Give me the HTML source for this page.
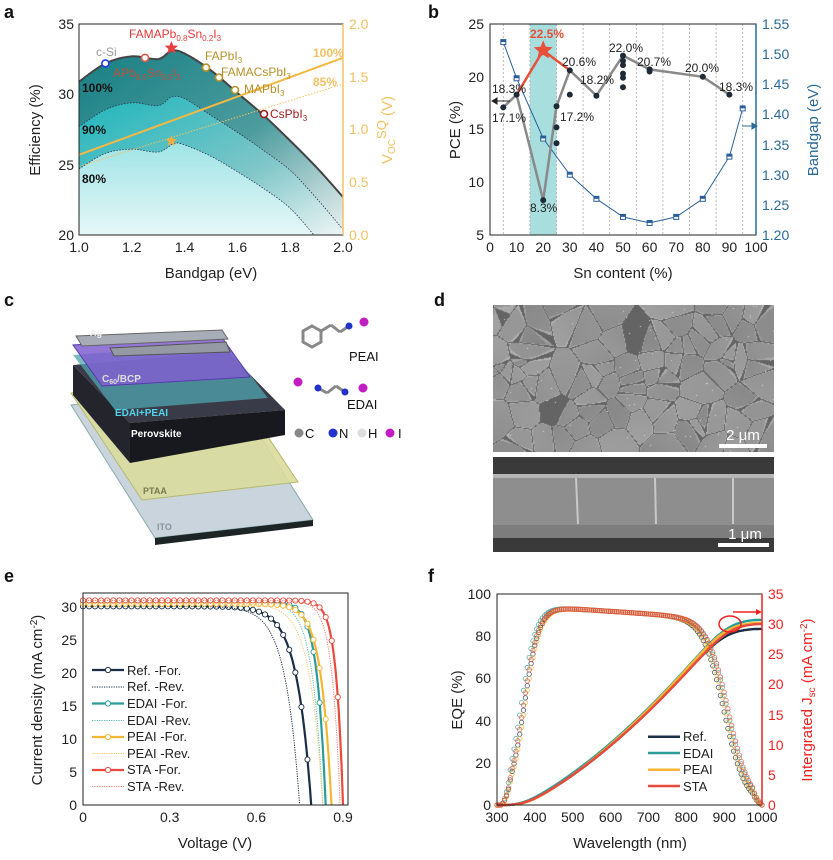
<!DOCTYPE html>
<html><head><meta charset="utf-8">
<style>
html,body{margin:0;padding:0;background:#fff;}
svg{display:block;font-family:"Liberation Sans",Arial,sans-serif;position:relative;}
.t{font-size:14px;fill:#222;}
.ti{font-size:15px;fill:#222;}
.pl{font-size:18px;font-weight:bold;fill:#111;}
#cv{position:absolute;left:493px;top:305px;}
</style></head>
<body>
<canvas id="cv" width="281" height="147"></canvas>
<svg id="s" width="833" height="860" viewBox="0 0 833 860" xmlns="http://www.w3.org/2000/svg">
<defs>
<linearGradient id="ga" x1="0" y1="0" x2="1" y2="1"><stop offset="0" stop-color="#167f83"/><stop offset="0.55" stop-color="#4d9c9e"/><stop offset="1" stop-color="#eef2f2"/></linearGradient>
<linearGradient id="gb" x1="0" y1="0" x2="1" y2="1"><stop offset="0" stop-color="#1cb6bc"/><stop offset="0.6" stop-color="#7fc6c8"/><stop offset="1" stop-color="#eef5f5"/></linearGradient>
<linearGradient id="gc" x1="0" y1="0" x2="0" y2="1"><stop offset="0" stop-color="#9fe4e6"/><stop offset="1" stop-color="#e6f7f7"/></linearGradient>
</defs>

<text class="pl" x="4" y="18">a</text>
<text class="pl" x="428" y="18">b</text>
<text class="pl" x="4" y="306">c</text>
<text class="pl" x="434" y="306">d</text>
<text class="pl" x="4" y="582">e</text>
<text class="pl" x="428" y="582">f</text>

<!-- ============ Panel a ============ -->
<g id="pa"></g>
<rect x="79" y="24" width="264" height="211" fill="none" stroke="#222" stroke-width="1"/>
<line x1="343" y1="24" x2="343" y2="235" stroke="#f2c468" stroke-width="1.5"/>
<g class="t" text-anchor="middle">
<text x="79" y="252">1.0</text><text x="131.8" y="252">1.2</text><text x="184.6" y="252">1.4</text><text x="237.4" y="252">1.6</text><text x="290.2" y="252">1.8</text><text x="343" y="252">2.0</text>
</g>
<g class="t" text-anchor="end">
<text x="74" y="29">35</text><text x="74" y="99">30</text><text x="74" y="170">25</text><text x="74" y="240">20</text>
</g>
<g class="t" style="fill:#f2c060">
<text x="349" y="29">2.0</text><text x="349" y="82">1.5</text><text x="349" y="134">1.0</text><text x="349" y="187">0.5</text><text x="349" y="240">0.0</text>
</g>
<text class="ti" x="211" y="278" text-anchor="middle">Bandgap (eV)</text>
<text class="ti" transform="translate(40,130) rotate(-90)" text-anchor="middle">Efficiency (%)</text>
<text class="ti" transform="translate(392,130) rotate(-90)" text-anchor="middle" style="fill:#f2c060">V<tspan font-size="10" dy="3">OC</tspan><tspan dy="-9" font-size="13">SQ</tspan><tspan dy="6"> (V)</tspan></text>
<g font-size="12" font-weight="bold" fill="#111">
<text x="82" y="92">100%</text><text x="82" y="134">90%</text><text x="82" y="183">80%</text>
</g>
<g font-size="12" fill="#f2c060" font-weight="bold">
<text x="313" y="57">100%</text><text x="313" y="86">85%</text>
</g>
<g font-size="12">
<text x="96" y="56" fill="#999">c-Si</text>
<text x="129" y="38" fill="#e63a3a">FAMAPb<tspan font-size="8" dy="3">0.8</tspan><tspan dy="-3">Sn</tspan><tspan font-size="8" dy="3">0.2</tspan><tspan dy="-3">I</tspan><tspan font-size="8" dy="3">3</tspan></text>
<text x="113" y="77" fill="#c0503c">APb<tspan font-size="8" dy="3">0.5</tspan><tspan dy="-3">Sn</tspan><tspan font-size="8" dy="3">0.5</tspan><tspan dy="-3">I</tspan><tspan font-size="8" dy="3">3</tspan></text>
<text x="205" y="60" fill="#b8902a">FAPbI<tspan font-size="8" dy="3">3</tspan></text>
<text x="221" y="76" fill="#b8902a">FAMACsPbI<tspan font-size="8" dy="3">3</tspan></text>
<text x="244" y="93" fill="#b8902a">MAPbI<tspan font-size="8" dy="3">3</tspan></text>
<text x="270" y="118" fill="#a02020">CsPbI<tspan font-size="8" dy="3">3</tspan></text>
</g>

<!-- ============ Panel b ============ -->
<rect x="530" y="24" width="26.6" height="211" fill="#a9dede"/>
<g id="pb"></g>
<rect x="490" y="24" width="266" height="211" fill="none" stroke="#222" stroke-width="1"/>
<line x1="756" y1="24" x2="756" y2="235" stroke="#2a6a95" stroke-width="1.5"/>
<g class="t" text-anchor="middle">
<text x="490" y="252">0</text><text x="516.6" y="252">10</text><text x="543.2" y="252">20</text><text x="569.8" y="252">30</text><text x="596.4" y="252">40</text><text x="623" y="252">50</text><text x="649.6" y="252">60</text><text x="676.2" y="252">70</text><text x="702.8" y="252">80</text><text x="729.4" y="252">90</text><text x="756" y="252">100</text>
</g>
<g class="t" text-anchor="end">
<text x="484" y="29">25</text><text x="484" y="82">20</text><text x="484" y="134">15</text><text x="484" y="187">10</text><text x="484" y="240">5</text>
</g>
<g class="t" style="fill:#2a6a95">
<text x="762" y="29">1.55</text><text x="762" y="59">1.50</text><text x="762" y="89">1.45</text><text x="762" y="119">1.40</text><text x="762" y="150">1.35</text><text x="762" y="180">1.30</text><text x="762" y="210">1.25</text><text x="762" y="240">1.20</text>
</g>
<text class="ti" x="623" y="278" text-anchor="middle">Sn content (%)</text>
<text class="ti" transform="translate(460,130) rotate(-90)" text-anchor="middle">PCE (%)</text>
<text class="ti" transform="translate(818,130) rotate(-90)" text-anchor="middle" style="fill:#2a6a95">Bandgap (eV)</text>
<g font-size="12" fill="#222">
<text x="492" y="93">18.3%</text>
<text x="492" y="122">17.1%</text>
<text x="530" y="212">8.3%</text>
<text x="560" y="121">17.2%</text>
<text x="562" y="66">20.6%</text>
<text x="580" y="84">18.2%</text>
<text x="609" y="52">22.0%</text>
<text x="637" y="66">20.7%</text>
<text x="685" y="72">20.0%</text>
<text x="719" y="91">18.3%</text>
</g>
<text x="530" y="38" font-size="12" font-weight="bold" fill="#e8503a">22.5%</text>
<path d="M510,101 L492,101 M492,101 l5,-3 v6z" stroke="#222" fill="#222"/>
<path d="M742,126 L757,126 M757,126 l-5,-3 v6z" stroke="#2a6a95" fill="#2a6a95"/>

<!-- ============ Panel c ============ -->
<g>
<polygon points="71,405 155,538 313,520 229,387" fill="#c9d4dc" stroke="#8aa" stroke-width="1"/>
<polygon points="155,538 313,520 313,526 155,545" fill="#1c2426"/>
<polygon points="71,393 142,500 298,482 227,375" fill="#d9dc9c" fill-opacity="0.9" stroke="#b5b870"/>
<polygon points="73,365 130,423 285,410 228,352" fill="#3a3b48"/>
<polygon points="73,365 130,423 130,463 73,395" fill="#24252c"/>
<polygon points="130,423 285,410 285,435 130,463" fill="#18191e"/>
<polygon points="73,355 115,410 268,398 226,344" fill="#4fa6b0" fill-opacity="0.75"/>
<polygon points="73,345 102,386 250,377 221,336" fill="#7f5fcf" fill-opacity="0.85" stroke="#5a3ab0"/>
<polygon points="76,336 82,346 228,339 222,330" fill="#a8acb6" stroke="#666"/>
<polygon points="110,348 114,356 230,352 226,342" fill="#9599a3" stroke="#555"/>
<text x="90" y="336" font-size="9" fill="#eee" font-weight="bold">Ag</text>
<text x="102" y="382" font-size="10" fill="#ddd" font-weight="bold">C<tspan font-size="7" dy="2">60</tspan><tspan dy="-2">/BCP</tspan></text>
<text x="115" y="416" font-size="10" fill="#4fd4e8" font-weight="bold">EDAI+PEAI</text>
<text x="131" y="437" font-size="10" fill="#fff" font-weight="bold">Perovskite</text>
<text x="143" y="494" font-size="9" fill="#7a7a50" font-weight="bold">PTAA</text>
<text x="157" y="530" font-size="9" fill="#8a95a0" font-weight="bold">ITO</text>
</g>
<g stroke="#888" stroke-width="3">
<polygon points="312,326 321,331 321,342 312,347 303,342 303,331" fill="none"/>
<line x1="321" y1="331" x2="331" y2="325"/><line x1="331" y1="325" x2="340" y2="332"/><line x1="340" y1="332" x2="349" y2="326"/>
<line x1="318" y1="388" x2="327" y2="393"/><line x1="327" y1="393" x2="336" y2="386"/><line x1="336" y1="386" x2="345" y2="392"/>
</g>
<circle cx="349" cy="326" r="3.5" fill="#2233cc"/>
<circle cx="364" cy="322" r="4.5" fill="#c21cc2"/>
<circle cx="298" cy="382" r="4.5" fill="#c21cc2"/>
<circle cx="318" cy="388" r="3.5" fill="#2233cc"/>
<circle cx="345" cy="392" r="3.5" fill="#2233cc"/>
<circle cx="363" cy="388" r="4.5" fill="#c21cc2"/>
<text x="349" y="361" font-size="13" fill="#111">PEAI</text>
<text x="347" y="409" font-size="13" fill="#111">EDAI</text>
<g font-size="13" fill="#111">
<circle cx="299" cy="433" r="4.5" fill="#888"/><text x="305" y="438">C</text>
<circle cx="333" cy="433" r="4.5" fill="#2233cc"/><text x="339" y="438">N</text>
<circle cx="362" cy="433" r="4.5" fill="#ddd"/><text x="368" y="438">H</text>
<circle cx="390" cy="433" r="4.5" fill="#c21cc2"/><text x="398" y="438">I</text>
</g>

<!-- ============ Panel d ============ -->
<rect x="719" y="444" width="48" height="4" fill="#fff"/>
<text x="743" y="440" font-size="15" fill="#fff" text-anchor="middle">2 μm</text>
<rect x="493" y="457" width="281" height="95" fill="#3a3a3a"/>
<rect x="493" y="474" width="281" height="51" fill="#8e8e8e"/>
<rect x="493" y="474" width="281" height="4" fill="#b5b5b5"/>
<g stroke="#c8c8c8" stroke-width="2"><line x1="576" y1="478" x2="578" y2="524"/><line x1="655" y1="478" x2="656" y2="524"/><line x1="733" y1="478" x2="733" y2="524"/></g>
<rect x="493" y="525" width="281" height="13" fill="#7d7d7d"/>
<rect x="718" y="543" width="51" height="4" fill="#fff"/>
<text x="745" y="539" font-size="15" fill="#fff" text-anchor="middle">1 μm</text>

<!-- ============ Panel e ============ -->
<g id="pe"></g>
<rect x="83" y="593" width="265" height="212" fill="none" stroke="#222" stroke-width="1"/>
<g class="t" text-anchor="middle">
<text x="83" y="822">0</text><text x="169.7" y="822">0.3</text><text x="256.3" y="822">0.6</text><text x="343" y="822">0.9</text>
</g>
<g class="t" text-anchor="end">
<text x="77" y="810">0</text><text x="77" y="777">5</text><text x="77" y="744">10</text><text x="77" y="711">15</text><text x="77" y="678">20</text><text x="77" y="645">25</text><text x="77" y="612">30</text>
</g>
<text class="ti" x="215" y="848" text-anchor="middle">Voltage (V)</text>
<text class="ti" transform="translate(42,700) rotate(-90)" text-anchor="middle">Current density (mA cm<tspan font-size="10" dy="-5">-2</tspan><tspan dy="5">)</tspan></text>
<g id="le"></g>
<g font-size="13" fill="#222">
<text x="127" y="675">Ref. -For.</text><text x="127" y="691">Ref. -Rev.</text>
<text x="127" y="708">EDAI -For.</text><text x="127" y="725">EDAI -Rev.</text>
<text x="127" y="741">PEAI -For.</text><text x="127" y="758">PEAI -Rev.</text>
<text x="127" y="774">STA -For.</text><text x="127" y="791">STA -Rev.</text>
</g>

<!-- ============ Panel f ============ -->
<g id="pf"></g>
<rect x="497" y="594" width="265" height="211" fill="none" stroke="#222" stroke-width="1"/>
<line x1="762" y1="594" x2="762" y2="805" stroke="#ee2222" stroke-width="1.5"/>
<g class="t" text-anchor="middle">
<text x="497" y="822">300</text><text x="534.9" y="822">400</text><text x="572.7" y="822">500</text><text x="610.6" y="822">600</text><text x="648.4" y="822">700</text><text x="686.3" y="822">800</text><text x="724.2" y="822">900</text><text x="762" y="822">1000</text>
</g>
<g class="t" text-anchor="end">
<text x="491" y="810">0</text><text x="491" y="768">20</text><text x="491" y="726">40</text><text x="491" y="683">60</text><text x="491" y="641">80</text><text x="491" y="599">100</text>
</g>
<g class="t" style="fill:#ee2222">
<text x="768" y="810">0</text><text x="768" y="780">5</text><text x="768" y="750">10</text><text x="768" y="720">15</text><text x="768" y="689">20</text><text x="768" y="659">25</text><text x="768" y="629">30</text><text x="768" y="599">35</text>
</g>
<text class="ti" x="630" y="848" text-anchor="middle">Wavelength (nm)</text>
<text class="ti" transform="translate(462,700) rotate(-90)" text-anchor="middle">EQE (%)</text>
<text class="ti" transform="translate(812,700) rotate(-90)" text-anchor="middle" style="fill:#ee2222">Intergrated J<tspan font-size="10" dy="3">sc</tspan><tspan dy="-3"> (mA cm</tspan><tspan font-size="10" dy="-5">-2</tspan><tspan dy="5">)</tspan></text>
<ellipse cx="730" cy="624" rx="11" ry="8" fill="none" stroke="#ee2222" stroke-width="1.5"/>
<path d="M733,612 L758,612" stroke="#ee2222" stroke-width="1.5"/><path d="M762,612 l-6,-3 v6z" fill="#ee2222"/>
<g id="lf"></g>
<g font-size="13" fill="#222">
<text x="683" y="741">Ref.</text><text x="683" y="758">EDAI</text><text x="683" y="774">PEAI</text><text x="683" y="791">STA</text>
</g>
</svg>

<script>
var NS="http://www.w3.org/2000/svg";
function el(p,t,a){var e=document.createElementNS(NS,t);for(var k in a)e.setAttribute(k,a[k]);document.getElementById(p).appendChild(e);return e;}
function cr(pts){var d="M"+pts[0][0]+","+pts[0][1];for(var i=0;i<pts.length-1;i++){var p0=pts[i-1]||pts[i],p1=pts[i],p2=pts[i+1],p3=pts[i+2]||p2;
d+=" C"+(p1[0]+(p2[0]-p0[0])/6)+","+(p1[1]+(p2[1]-p0[1])/6)+" "+(p2[0]-(p3[0]-p1[0])/6)+","+(p2[1]-(p3[1]-p1[1])/6)+" "+p2[0]+","+p2[1];}return d;}
function pl(pts){return "M"+pts.map(function(p){return p[0].toFixed(1)+","+p[1].toFixed(1)}).join(" L");}

function ax(b){return 79+(b-1)*264;} function ay(v){return 24+(35-v)*211/15;}
function conv(a){return a.map(function(p){return [ax(p[0]),ay(p[1])];});}
var sq=conv([[1.0,30.9],[1.1,32.2],[1.2,32.7],[1.3,32.5],[1.35,33.1],[1.4,32.9],[1.5,31.7],[1.6,30.1],[1.7,28.5],[1.8,26.7],[1.9,24.8],[2.0,22.7]]);
var c90=conv([[1.0,27.7],[1.1,28.9],[1.2,29.4],[1.3,29.2],[1.35,29.8],[1.4,29.7],[1.5,28.5],[1.6,27.3],[1.7,26.0],[1.8,24.6],[1.9,22.6],[2.0,20.4]]);
var c80=conv([[1.0,24.7],[1.1,25.8],[1.2,26.1],[1.3,25.9],[1.36,26.5],[1.4,26.4],[1.5,25.6],[1.6,24.5],[1.7,23.3],[1.8,21.9],[1.89,20]]);
el("pa","path",{d:cr(sq)+" L343,235 L79,235 Z",fill:"url(#ga)"});
el("pa","path",{d:cr(c90)+" L343,235 L79,235 Z",fill:"url(#gb)"});
el("pa","path",{d:cr(c80)+" L79,235 Z",fill:"url(#gc)"});
el("pa","path",{d:cr(c90),fill:"none",stroke:"#335","stroke-width":0.8,"stroke-dasharray":"1.5,1.5"});
el("pa","path",{d:cr(c80),fill:"none",stroke:"#335","stroke-width":0.8,"stroke-dasharray":"1.5,1.5"});
el("pa","path",{d:cr(sq),fill:"none",stroke:"#444","stroke-width":2});
el("pa","line",{x1:79,y1:154.8,x2:343,y2:57.8,stroke:"#f5b843","stroke-width":2});
el("pa","line",{x1:79,y1:166.4,x2:343,y2:84.1,stroke:"#f5c060","stroke-width":1,"stroke-dasharray":"1.5,1.5"});
[[105.4,63.4,"#1d3cf0"],[145,57.8,"#e05a4a"],[206,67.6,"#b8902a"],[219,77.5,"#b8902a"],[235,90,"#b8902a"],[264,114,"#9a1b1b"]].forEach(function(m){el("pa","circle",{cx:m[0],cy:m[1],r:3.5,fill:"#fff",stroke:m[2],"stroke-width":1.6});});
function star(g,cx,cy,R,c){var p=[];for(var i=0;i<10;i++){var r=i%2?R*0.45:R,a=-Math.PI/2+i*Math.PI/5;p.push((cx+r*Math.cos(a)).toFixed(1)+","+(cy+r*Math.sin(a)).toFixed(1));}el(g,"polygon",{points:p.join(" "),fill:c});}
star("pa",171.4,48,7,"#e84040");
star("pa",171.4,141,6,"#f0b040");

function bx(s){return 490+s*2.66;} function by(v){return 235-(v-5)*10.55;} function bg(v){return 235-(v-1.2)*602.9;}
[5,15,25,35,45,55,65,75,85,95].forEach(function(s){el("pb","line",{x1:bx(s),y1:24,x2:bx(s),y2:235,stroke:"#aaa","stroke-width":0.8,"stroke-dasharray":"2,2"});});
var gl=[[5,17.1],[10,18.3],[20,8.3],[25,17.2],[30,20.6],[40,18.2],[50,22.0],[60,20.7],[80,20.0],[90,18.3]].map(function(p){return [bx(p[0]),by(p[1])];});
var bgp=[[5,1.52],[10,1.46],[20,1.36],[30,1.30],[40,1.26],[50,1.23],[60,1.22],[70,1.23],[80,1.26],[90,1.33],[95,1.41]].map(function(p){return [bx(p[0]),bg(p[1])];});
el("pb","path",{d:pl(bgp),fill:"none",stroke:"#2a5f9a","stroke-width":1});
bgp.forEach(function(p){el("pb","rect",{x:p[0]-2.5,y:p[1]-2.5,width:5,height:5,fill:"#fff",stroke:"#2a5f9a","stroke-width":1});el("pb","rect",{x:p[0]-2.5,y:p[1]-2.5,width:5,height:2.5,fill:"#2a5f9a"});});
el("pb","path",{d:pl(gl),fill:"none",stroke:"#8a8a8a","stroke-width":2.5});
el("pb","path",{d:pl([[bx(10),by(18.3)],[bx(20),by(22.5)],[bx(30),by(20.6)]]),fill:"none",stroke:"#e8503a","stroke-width":2.5});
var dots=gl.concat([[25,15.2],[25,13.7],[30,18.3],[50,21.5],[50,21.1],[50,20.3],[50,19.9],[50,19.0],[60,20.5]].map(function(p){return [bx(p[0]),by(p[1])];}));
dots.forEach(function(p){el("pb","circle",{cx:p[0],cy:p[1],r:3,fill:"#1e2a38"});});
star("pb",bx(20),by(22.5),10,"#e8503a");

(function(){var cv=document.getElementById("cv"),ctx=cv.getContext("2d"),W=281,H=147;
var seed=11;function rnd(){seed=(seed*16807)%2147483647;return seed/2147483647;}
var S=[];for(var i=0;i<95;i++)S.push([rnd()*W,rnd()*H,138+rnd()*18,rnd()*2-1,rnd()*2-1]);
var img=ctx.createImageData(W,H);
for(var y=0;y<H;y++)for(var x=0;x<W;x++){var d1=1e9,d2=1e9,b=0;for(var i=0;i<S.length;i++){var dx=x-S[i][0],dy=y-S[i][1],d=dx*dx+dy*dy;if(d<d1){d2=d1;d1=d;b=i;}else if(d<d2)d2=d;}
var g=Math.sqrt(d2)-Math.sqrt(d1);var s=S[b];var v=s[2]+(x-s[0])*s[3]*0.25+(y-s[1])*s[4]*0.25;
if(g<0.9)v=100;else if(g<1.8)v=Math.min(v+25,190);
if(rnd()<0.002)v=215;
var k=(y*W+x)*4;img.data[k]=img.data[k+1]=img.data[k+2]=Math.max(0,Math.min(255,v));img.data[k+3]=255;}
ctx.putImageData(img,0,0);})();

function ex(v){return 83+v*288.9;} function ey(j){return 805-j*6.6;}
var jv=[["#1a2e45",30.1,0.79,0.05,1],["#1a2e45",30.1,0.75,0.05,0],["#2a9d9a",30.8,0.84,0.03,1],["#5ab8b5",30.8,0.83,0.036,0],["#f5b731",30.5,0.86,0.036,1],["#f7c865",30.5,0.83,0.045,0],["#e84a3b",31.0,0.90,0.024,1],["#ee8075",31.0,0.89,0.028,0]];
jv.forEach(function(c){var P=[];for(var v=0;v<=c[2]+0.0001;v+=0.005){var j=c[1]*(1-Math.exp((v-c[2])/c[3]))/(1-Math.exp(-c[2]/c[3]));P.push([ex(v),ey(Math.max(0,j))]);}
P.push([ex(c[2]),ey(0)]);
if(c[4]){el("pe","path",{d:pl(P),fill:"none",stroke:c[0],"stroke-width":2.2});
for(var v=0;v<=c[2];v+=0.021){var j=c[1]*(1-Math.exp((v-c[2])/c[3]))/(1-Math.exp(-c[2]/c[3]));el("pe","circle",{cx:ex(v),cy:ey(j),r:2.6,fill:"#fff",stroke:c[0],"stroke-width":0.9});}}
else el("pe","path",{d:pl(P),fill:"none",stroke:c[0],"stroke-width":1,"stroke-dasharray":"1.2,1.2"});});
var ly=[670,687,703.5,720.5,737,753.5,770,786.5];
jv.forEach(function(c,i){if(c[4]){el("le","line",{x1:92,y1:ly[i],x2:124,y2:ly[i],stroke:c[0],"stroke-width":2.2});el("le","circle",{cx:108,cy:ly[i],r:2.6,fill:"#fff",stroke:c[0]});}
else el("le","line",{x1:92,y1:ly[i],x2:124,y2:ly[i],stroke:c[0],"stroke-width":1,"stroke-dasharray":"1.2,1.2"});});

function fx(l){return 497+(l-300)*0.37857;} function fy(e){return 805-e*2.11;} function fj(j){return 805-j*6.03;}
var fs=[["#1a2e45",372,900,29.2],["#2a9d9a",364,910,30.7],["#f5b731",374,904,30.2],["#e84a3b",370,912,30.0]];
function eqe(l,c){if(l<312)return 0;var r=1/(1+Math.exp(-(l-c[1])/20)),f=1/(1+Math.exp((l-c[2])/28));var A=93-(l-500)*0.012;var w=Math.min(1,(l-312)/25);var e=Math.min(1,(1000-l)/25);return A*r*f*w*Math.max(0,e);}
fs.forEach(function(c){var J=[],s=0,arr=[];for(var l=300;l<=1000;l+=2){var e=eqe(l,c);s+=e*l;arr.push([l,e,s]);}
arr.forEach(function(a){J.push([fx(a[0]),fj(a[2]/s*c[3])]);});
el("pf","path",{d:pl(J),fill:"none",stroke:c[0],"stroke-width":2.4});
for(var l=300;l<=1000;l+=5){el("pf","circle",{cx:fx(l),cy:fy(eqe(l,c)),r:2.2,fill:"none",stroke:c[0],"stroke-width":0.8,"stroke-opacity":0.8});}});
[736.7,753,769.7,786].forEach(function(y,i){el("lf","line",{x1:648,y1:y,x2:680,y2:y,stroke:fs[i][0],"stroke-width":2.5});});
</script>
</body></html>
